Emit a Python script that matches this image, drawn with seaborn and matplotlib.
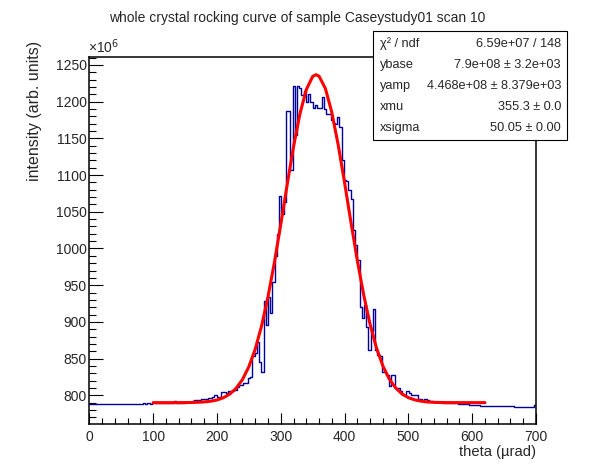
import numpy as np
import pandas as pd
import matplotlib
matplotlib.use('Agg')
import matplotlib.pyplot as plt
from matplotlib.patches import Rectangle
from matplotlib.ticker import MultipleLocator
import seaborn as sns

# histogram: 200 bins over 0..700 urad, intensity in units of 1e6
theta_min, theta_max, n_bins = 0, 700, 200
counts = [
    788.5, 788.5, 787.7, 787.7, 787.7, 787.7, 787.7, 787.7, 787.7, 787.7,
    787.7, 787.7, 787.7, 787.7, 787.7, 787.7, 787.7, 787.7, 787.7, 787.7,
    787.7, 787.7, 787.7, 787.7, 789.0, 787.7, 789.0, 787.7, 789.0, 789.0,
    789.0, 789.0, 789.0, 789.0, 789.0, 789.0, 789.0, 789.0, 791.8, 790.0,
    790.0, 790.0, 790.0, 791.0, 791.0, 791.0, 792.0, 793.0, 793.0, 793.0,
    794.5, 794.5, 795.5, 796.0, 796.5, 798.0, 800.0, 798.0, 798.0, 804.5,
    804.0, 803.0, 805.5, 805.5, 806.0, 807.0, 811.5, 814.0, 814.0, 816.5,
    817.0, 823.0, 825.0, 854.0, 857.0, 873.0, 846.0, 832.0, 928.0, 896.0,
    934.0, 912.0, 955.0, 990.0, 1020.0, 1072.0, 1047.0, 1063.0, 1188.0, 1188.0,
    1107.0, 1222.0, 1155.0, 1222.0, 1219.0, 1209.0, 1214.0, 1200.0, 1211.0, 1200.0,
    1192.0, 1195.0, 1192.0, 1192.0, 1207.0, 1190.0, 1183.0, 1183.0, 1175.0, 1170.5,
    1170.0, 1179.5, 1165.0, 1120.0, 1093.0, 1092.0, 1080.0, 1068.0, 1025.0, 1005.0,
    984.0, 920.0, 905.0, 923.0, 893.0, 862.0, 887.0, 918.0, 862.0, 855.0,
    853.0, 832.0, 832.0, 828.0, 812.0, 828.0, 828.0, 809.5, 809.5, 806.0,
    800.5, 800.5, 806.0, 802.5, 800.5, 800.5, 800.5, 794.5, 794.5, 794.0,
    794.5, 793.0, 792.7, 792.7, 791.3, 791.3, 791.3, 791.3, 790.0, 790.0,
    790.0, 790.0, 790.0, 790.0, 790.0, 787.7, 788.1, 788.1, 788.1, 788.1,
    787.4, 787.4, 787.4, 787.4, 787.4, 786.0, 786.0, 786.0, 786.0, 786.0,
    786.0, 786.0, 786.0, 786.0, 785.0, 785.0, 785.0, 785.0, 785.0, 785.0,
    783.6, 783.6, 783.6, 783.6, 783.6, 783.6, 783.6, 783.6, 783.6, 786.8,
]

# fitted curve
fit_theta = [100, 110, 120, 130, 140, 150, 160, 170, 180, 190,
             200, 210, 220, 230, 240, 250, 260, 270, 280, 290,
             300, 310, 320, 330, 340, 350, 355, 360, 370, 380, 390,
             400, 410, 420, 430, 440, 450, 460, 470, 480, 490,
             500, 510, 520, 530, 540, 550, 560, 570, 580, 590,
             600, 610, 620]
fit_vals = [790.0, 790.0, 790.0, 790.0, 790.0, 790.1, 790.2, 790.5, 791.0, 791.9,
            793.6, 796.6, 801.6, 809.5, 821.4, 838.9, 862.9, 894.6, 934.1, 980.7,
            1032.7, 1086.6, 1138.4, 1183.2, 1216.4, 1234.3, 1236.8, 1234.8, 1217.9, 1185.6, 1141.4,
            1089.9, 1035.9, 983.7, 936.7, 896.7, 864.6, 840.1, 822.3, 810.1, 801.9,
            796.8, 793.8, 792.0, 790.9, 790.4, 790.2, 790.1, 790.0, 790.0, 790.0,
            790.0, 790.0, 790.0]

stat_names = ['\u03c7\u00b2 / ndf', 'ybase', 'yamp', 'xmu', 'xsigma']
stat_values = ['6.59e+07 / 148', '7.9e+08 \u00b1 3.2e+03',
               '4.468e+08 \u00b1 8.379e+03', '355.3 \u00b1 0.0', '50.05 \u00b1 0.00']

sns.set_style('white')
plt.rcParams['font.family'] = ['Liberation Sans', 'DejaVu Sans']

W, H = 596, 472
fig = plt.figure(figsize=(W / 100, H / 100), dpi=100)
ax = fig.add_axes([89.3 / W, 1 - 424 / H, (536 - 89.3) / W, (424 - 56.7) / H])

bin_w = (theta_max - theta_min) / n_bins
centers = [theta_min + bin_w * (i + 0.5) for i in range(n_bins)]
hist_df = pd.DataFrame({'theta': centers, 'intensity': counts})
sns.histplot(data=hist_df, x='theta', weights='intensity', binwidth=bin_w,
             binrange=(theta_min, theta_max), element='step', fill=False,
             color='#000099', linewidth=1.0, ax=ax)
fit_df = pd.DataFrame({'theta': fit_theta, 'intensity': fit_vals})
sns.lineplot(data=fit_df, x='theta', y='intensity', color='#ff0000', linewidth=2.2,
             estimator=None, sort=False, ax=ax)

ax.set_xlim(0, 700)
ax.set_ylim(760.9, 1261.3)
ax.set_xlabel('')
ax.set_ylabel('')
ax.xaxis.set_major_locator(MultipleLocator(100))
ax.xaxis.set_minor_locator(MultipleLocator(20))
ax.yaxis.set_major_locator(MultipleLocator(50))
ax.yaxis.set_minor_locator(MultipleLocator(10))
ax.tick_params(axis='both', which='both', direction='in', top=False, right=False,
               bottom=True, left=True, labelsize=10, color='black', width=0.8)
ax.tick_params(axis='x', which='major', length=8, pad=4)
ax.tick_params(axis='x', which='minor', length=4)
ax.tick_params(axis='y', which='major', length=10, pad=2)
ax.tick_params(axis='y', which='minor', length=5)
for s in ax.spines.values():
    s.set_color('black')
    s.set_linewidth(1.1)

def fx(px):
    return px / W

def fy(py):
    return 1 - py / H

fig.text(fx(297.5), fy(18), 'whole crystal rocking curve of sample Caseystudy01 scan 10',
         ha='center', va='center', fontsize=10)
fig.text(fx(35), fy(41), 'intensity (arb. units)', rotation=90,
         ha='center', va='top', fontsize=11.5)
fig.text(fx(536), fy(452), 'theta (\u00b5rad)', ha='right', va='center', fontsize=10.6)
fig.text(fx(88), fy(47), '\u00d710$^{6}$', ha='left', va='center', fontsize=10)

box = Rectangle((fx(373), fy(140)), (567 - 373) / W, (140 - 31) / H,
                transform=fig.transFigure, facecolor='white', edgecolor='black',
                linewidth=0.8, zorder=5)
fig.add_artist(box)
for k, (nm, val) in enumerate(zip(stat_names, stat_values)):
    yy = fy(44 + 21 * k)
    fig.text(fx(380), yy, nm, ha='left', va='center', fontsize=9.2, zorder=6)
    fig.text(fx(561), yy, val, ha='right', va='center', fontsize=9.2, zorder=6)

fig.savefig('out.png', dpi=100)
